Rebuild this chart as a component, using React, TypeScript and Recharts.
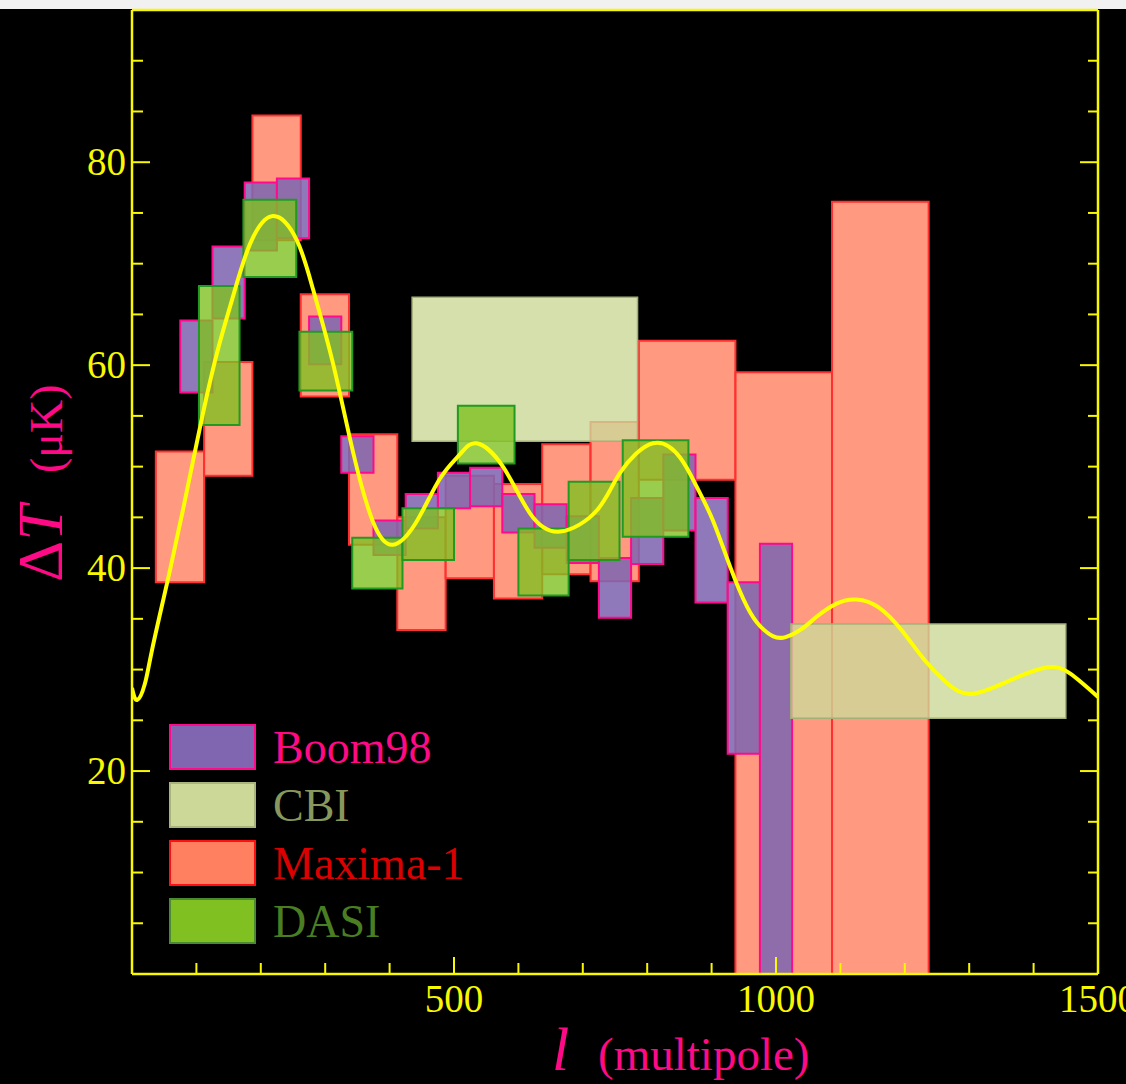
import React from 'react';
import { ComposedChart, Line, XAxis, YAxis, ReferenceArea } from 'recharts';

// Theory curve: multipole l and ΔT (μK)
const CURVE_L = [0, 8, 20, 31, 54, 79, 106, 132, 157, 183, 219, 256, 281, 312, 343, 374, 405, 442, 478, 509, 535, 576, 618, 665, 722, 758, 809, 851, 877, 902, 929, 955, 975, 995, 1015, 1040, 1063, 1094, 1125, 1160, 1196, 1230, 1265, 1304, 1362, 1420, 1457, 1500];
const CURVE_DT = [28.2, 27.0, 28.6, 31.9, 38.4, 45.7, 54.0, 61.2, 66.8, 71.9, 74.7, 72.3, 67.5, 60.2, 51.5, 44.6, 42.3, 44.6, 48.8, 51.2, 52.3, 50.0, 45.4, 43.6, 45.7, 49.4, 52.3, 50.9, 48.0, 44.7, 40.1, 36.2, 34.3, 33.3, 33.2, 34.0, 35.2, 36.5, 36.9, 36.1, 33.8, 31.0, 28.7, 27.6, 28.9, 30.2, 29.6, 27.3];

// Band-power boxes: [l_min, l_max] and [ΔT_low, ΔT_high]
const MAXIMA_L = [[37, 112], [112, 187], [187, 262], [262, 337], [337, 412], [412, 487], [487, 562], [562, 637], [637, 712], [712, 787], [787, 937], [937, 1087], [1087, 1237]];
const MAXIMA_DT = [[38.6, 51.5], [49.1, 60.3], [72.3, 84.6], [56.9, 67.0], [42.3, 53.2], [33.9, 45.0], [39.0, 49.1], [37.0, 48.3], [39.4, 52.2], [38.7, 54.4], [48.7, 62.4], [0, 59.3], [0, 76.1]];

const BOOM_L = [[75, 125], [125, 175], [175, 225], [225, 275], [275, 325], [325, 375], [375, 425], [425, 475], [475, 525], [525, 575], [575, 625], [625, 675], [675, 725], [725, 775], [775, 825], [825, 875], [875, 925], [925, 975], [975, 1025]];
const BOOM_DT = [[57.3, 64.4], [64.6, 71.7], [71.3, 78.0], [72.5, 78.4], [60.1, 64.8], [49.4, 53.0], [41.3, 44.7], [43.9, 47.3], [45.9, 49.4], [46.1, 49.9], [43.5, 47.3], [42.0, 46.3], [40.5, 45.1], [35.1, 41.0], [40.4, 46.9], [43.7, 51.2], [36.6, 46.9], [21.7, 38.6], [0, 42.4]];

const CBI_L = [[435, 785], [1023, 1450]];
const CBI_DT = [[52.5, 66.7], [25.2, 34.5]];

const DASI_L = [[104, 167], [173, 255], [260, 342], [342, 420], [420, 500], [506, 594], [600, 678], [678, 757], [762, 864]];
const DASI_DT = [[54.1, 67.8], [68.7, 76.3], [57.5, 63.3], [38.0, 43.0], [40.8, 45.9], [50.3, 56.0], [37.3, 43.9], [40.8, 48.5], [43.1, 52.6]];

// Axis ticks
const X_TICKS = [0, 100, 200, 300, 400, 500, 600, 700, 800, 900, 1000, 1100, 1200, 1300, 1400, 1500];
const X_LABELS = [500, 1000, 1500];
const Y_TICKS = [0, 5, 10, 15, 20, 25, 30, 35, 40, 45, 50, 55, 60, 65, 70, 75, 80, 85, 90, 95];
const Y_LABELS = [20, 40, 60, 80];

// Legend entries
const LEGEND_NAMES = ['Boom98', 'CBI', 'Maxima-1', 'DASI'];

const YELLOW = '#f8f800';
const PINK = '#ff0a86';
const SERIF = '"Liberation Serif", "DejaVu Serif", serif';

const STYLES: Record<string, { fill: string; opacity: number; stroke: string; strokeWidth: number; text: string; swatchStroke: string }> = {
  'Boom98': { fill: '#8066b0', opacity: 0.88, stroke: '#ff0a8c', strokeWidth: 2, text: '#ff0a84', swatchStroke: '#ff0a8c' },
  'CBI': { fill: '#ccd898', opacity: 0.8, stroke: '#a4b078', strokeWidth: 1.5, text: '#88985c', swatchStroke: '#a8b47c' },
  'Maxima-1': { fill: '#ff8060', opacity: 0.8, stroke: '#ff3030', strokeWidth: 2, text: '#dd0000', swatchStroke: '#ff1010' },
  'DASI': { fill: '#80c020', opacity: 0.8, stroke: '#229a22', strokeWidth: 2, text: '#4a7e22', swatchStroke: '#4a8a30' },
};

const chartData = CURVE_L.map((l, i) => ({ l, dT: CURVE_DT[i] }));

const BottomTick = ({ x, y, payload }: any) => {
  const major = X_LABELS.includes(payload.value);
  return (
    <g>
      <line x1={x} x2={x} y1={y} y2={y - (major ? 17 : 11)} stroke={YELLOW} strokeWidth={2} />
      {major && (
        <text x={x} y={y + 38} textAnchor="middle" fill={YELLOW} fontSize={39} fontFamily={SERIF}>
          {payload.value}
        </text>
      )}
    </g>
  );
};

const TopTick = ({ x, y, payload }: any) => {
  const major = X_LABELS.includes(payload.value);
  return <line x1={x} x2={x} y1={y} y2={y + (major ? 17 : 11)} stroke={YELLOW} strokeWidth={2} />;
};

const LeftTick = ({ x, y, payload }: any) => {
  const major = Y_LABELS.includes(payload.value);
  return (
    <g>
      <line x1={x} x2={x + (major ? 18 : 11)} y1={y} y2={y} stroke={YELLOW} strokeWidth={2} />
      {major && (
        <text x={x - 6} y={y + 13} textAnchor="end" fill={YELLOW} fontSize={39} fontFamily={SERIF}>
          {payload.value}
        </text>
      )}
    </g>
  );
};

const RightTick = ({ x, y, payload }: any) => {
  const major = Y_LABELS.includes(payload.value);
  return <line x1={x} x2={x - (major ? 18 : 10)} y1={y} y2={y} stroke={YELLOW} strokeWidth={2} />;
};

// White backing so that translucent boxes blend as on a light page
function backing(ls: number[][], dts: number[][], key: string) {
  return ls.map((r, i) => (
    <ReferenceArea
      key={`${key}-bg-${i}`}
      x1={r[0]}
      x2={r[1]}
      y1={dts[i][0]}
      y2={dts[i][1]}
      fill="#ffffff"
      fillOpacity={1}
      stroke="none"
      ifOverflow="visible"
    />
  ));
}

function boxes(ls: number[][], dts: number[][], name: string) {
  const s = STYLES[name];
  return ls.map((r, i) => (
    <ReferenceArea
      key={`${name}-${i}`}
      x1={r[0]}
      x2={r[1]}
      y1={dts[i][0]}
      y2={dts[i][1]}
      fill={s.fill}
      fillOpacity={s.opacity}
      stroke={s.stroke}
      strokeWidth={s.strokeWidth}
      ifOverflow="visible"
    />
  ));
}

const Overlay = () => (
  <svg width={1126} height={1084} style={{ position: 'absolute', left: 0, top: 0, pointerEvents: 'none' }}>
    {/* y-axis title */}
    <g transform="translate(62,582) rotate(-90)">
      <text x={0} y={0} fill={PINK} fontFamily={SERIF} fontSize={64}>
        <tspan>Δ</tspan>
        <tspan fontStyle="italic">T</tspan>
      </text>
    </g>
    <g transform="translate(62,473) rotate(-90)">
      <text x={0} y={0} fill={PINK} fontFamily={SERIF} fontSize={46}>(μK)</text>
    </g>
    {/* x-axis title */}
    <text x={552} y={1070} fill={PINK} fontFamily={SERIF} fontSize={62} fontStyle="italic">l</text>
    <text x={598} y={1070} fill={PINK} fontFamily={SERIF} fontSize={47}>(multipole)</text>
    {/* legend */}
    {LEGEND_NAMES.map((name, i) => {
      const s = STYLES[name];
      const top = 725 + i * 58;
      return (
        <g key={name}>
          <rect x={170} y={top} width={85} height={44} fill={s.fill} stroke={s.swatchStroke} strokeWidth={2} />
          <text x={273} y={top + 38} fill={s.text} fontFamily={SERIF} fontSize={46}>
            {name}
          </text>
        </g>
      );
    })}
  </svg>
);

export default function App() {
  return (
    <div style={{ position: 'absolute', left: 0, top: 0, width: 1126, height: 1084, background: '#000', overflow: 'hidden' }}>
      <div style={{ position: 'absolute', left: 0, top: 0, width: 1126, height: 9, background: '#f1f1f1' }} />
      <ComposedChart
        width={1126}
        height={1084}
        data={chartData}
        margin={{ top: 9, right: 27, bottom: 0, left: 0 }}
        style={{ position: 'absolute', left: 0, top: 0 }}
      >
        <XAxis
          dataKey="l"
          type="number"
          domain={[0, 1500]}
          ticks={X_TICKS}
          interval={0}
          height={110}
          tickSize={0}
          tickMargin={0}
          tickLine={false}
          axisLine={{ stroke: YELLOW, strokeWidth: 2.5 }}
          tick={(p: any) => <BottomTick {...p} />}
          allowDataOverflow
        />
        <XAxis
          xAxisId="top"
          orientation="top"
          type="number"
          domain={[0, 1500]}
          ticks={X_TICKS}
          interval={0}
          height={1}
          tickSize={0}
          tickMargin={0}
          tickLine={false}
          axisLine={{ stroke: YELLOW, strokeWidth: 2.5 }}
          tick={(p: any) => <TopTick {...p} />}
          allowDataOverflow
        />
        <YAxis
          type="number"
          domain={[0, 95]}
          ticks={Y_TICKS}
          interval={0}
          width={132}
          tickSize={0}
          tickMargin={0}
          tickLine={false}
          axisLine={{ stroke: YELLOW, strokeWidth: 2.5 }}
          tick={(p: any) => <LeftTick {...p} />}
          allowDataOverflow
        />
        <YAxis
          yAxisId="right"
          orientation="right"
          type="number"
          domain={[0, 95]}
          ticks={Y_TICKS}
          interval={0}
          width={1}
          tickSize={0}
          tickMargin={0}
          tickLine={false}
          axisLine={{ stroke: YELLOW, strokeWidth: 2.5 }}
          tick={(p: any) => <RightTick {...p} />}
          allowDataOverflow
        />

        {backing(MAXIMA_L, MAXIMA_DT, 'maxima')}
        {backing(BOOM_L, BOOM_DT, 'boom')}
        {backing(CBI_L, CBI_DT, 'cbi')}
        {backing(DASI_L, DASI_DT, 'dasi')}

        {boxes(MAXIMA_L, MAXIMA_DT, 'Maxima-1')}
        {boxes(BOOM_L, BOOM_DT, 'Boom98')}
        {boxes(CBI_L, CBI_DT, 'CBI')}
        {boxes(DASI_L, DASI_DT, 'DASI')}

        <Line
          type="natural"
          dataKey="dT"
          stroke="#ffff00"
          strokeWidth={4}
          dot={false}
          activeDot={false}
          isAnimationActive={false}
        />
      </ComposedChart>
      <Overlay />
    </div>
  );
}
